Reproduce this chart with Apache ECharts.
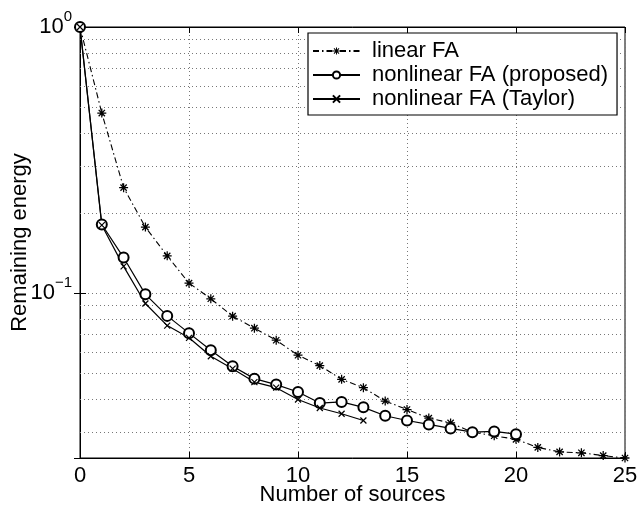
<!DOCTYPE html>
<html>
<head>
<meta charset="utf-8">
<script src="https://cdn.jsdelivr.net/npm/echarts@6/dist/echarts.min.js"></script>
<style>
html, body { margin: 0; padding: 0; background: #fff; }
#chart { width: 638px; height: 507px; }
</style>
</head>
<body>
<div id="chart"></div>
<script>
// Number of extracted sources (x) and the remaining energy for each method (log y)
const sources = [0, 1, 2, 3, 4, 5, 6, 7, 8, 9, 10, 11, 12, 13, 14, 15, 16, 17, 18, 19, 20, 21, 22, 23, 24, 25];
const linearFA = [1, 0.475, 0.249, 0.177, 0.138, 0.109, 0.0952, 0.0819, 0.0738, 0.0665, 0.0584, 0.0534, 0.0474,
  0.0441, 0.0393, 0.0365, 0.0339, 0.0325, 0.0300, 0.0291, 0.0282, 0.0263, 0.0253, 0.0251, 0.0245, 0.0240];
const proposedFA = [1, 0.181, 0.136, 0.0989, 0.0821, 0.0707, 0.0610, 0.0531, 0.0477, 0.0453, 0.0425, 0.0386,
  0.0390, 0.0372, 0.0346, 0.0332, 0.0321, 0.0310, 0.0300, 0.0302, 0.0295];
const taylorFA = [1, 0.180, 0.126, 0.0914, 0.0755, 0.0679, 0.0579, 0.0520, 0.0463, 0.0441, 0.0398, 0.0370,
  0.0352, 0.0332];

const seriesNames = ['linear FA', 'nonlinear FA (proposed)', 'nonlinear FA (Taylor)'];
const xRange = [0, 25];
const xStep = 5;
const yRange = [0.024, 1];
// dotted minor grid rows of the log axis
const minorGrid = [0.03, 0.04, 0.05, 0.06, 0.07, 0.08, 0.09, 0.2, 0.3, 0.4, 0.5, 0.6, 0.7, 0.8, 0.9];

const FONT = '"Liberation Sans", Arial, Helvetica, sans-serif';
const FS = 22;
// filled eight-armed asterisk and an open cross (stroked)
const ASTERISK = 'path://M0,4.3L10,4.3L10,5.7L0,5.7Z M4.3,0L5.7,0L5.7,10L4.3,10Z ' +
  'M1,2L2,1L9,8L8,9Z M8,1L9,2L2,9L1,8Z';
const CROSS = 'path://M0,0L10,10M10,0L0,10';

const pairs = arr => arr.map((v, i) => [sources[i], v]);
const dotted = { color: '#777', width: 1, type: [1, 3] };
const blackLine = { color: '#000', width: 1 };
const innerTick = { show: true, inside: true, length: 6, lineStyle: { color: '#000' } };

const chart = echarts.init(document.getElementById('chart'), null, { renderer: 'canvas' });

chart.setOption({
  animation: false,
  backgroundColor: '#fff',
  textStyle: { fontFamily: FONT, color: '#000' },
  grid: {
    left: 80, right: 13, top: 27, bottom: 49,
    outerBoundsMode: 'none',
    containLabel: false,
    show: true, borderColor: '#000', borderWidth: 1, backgroundColor: '#fff'
  },
  legend: {
    orient: 'vertical',
    left: 308, top: 33,
    padding: [7, 9, 5, 4],
    itemWidth: 47, itemHeight: 9, itemGap: 2,
    backgroundColor: '#fff',
    borderColor: '#000', borderWidth: 1.2,
    textStyle: { fontFamily: FONT, fontSize: FS, color: '#000', lineHeight: 22, padding: [0, 0, 0, 7] },
    data: seriesNames
  },
  xAxis: [{
    type: 'value', min: xRange[0], max: xRange[1], interval: xStep,
    name: 'Number of sources', nameLocation: 'middle', nameGap: 26,
    nameMoveOverlap: false,
    nameTextStyle: { fontFamily: FONT, fontSize: FS, color: '#000' },
    axisLine: { show: true, lineStyle: blackLine },
    axisTick: innerTick,
    axisLabel: { fontFamily: FONT, fontSize: FS, color: '#000', margin: 7 },
    splitLine: { show: true, lineStyle: dotted }
  }, {
    type: 'value', position: 'top', min: xRange[0], max: xRange[1], interval: xStep,
    axisLine: { show: true, lineStyle: blackLine },
    axisTick: innerTick,
    axisLabel: { show: false },
    splitLine: { show: false }
  }],
  yAxis: [{
    type: 'log', logBase: 10, min: yRange[0], max: yRange[1],
    name: 'Remaining energy', nameLocation: 'middle', nameGap: 49,
    nameMoveOverlap: false,
    nameTextStyle: { fontFamily: FONT, fontSize: FS, color: '#000' },
    axisLine: { show: true, lineStyle: blackLine },
    axisTick: innerTick,
    axisLabel: {
      showMinLabel: false,
      margin: 8,
      formatter: function (v) {
        const e = Math.log10(v);
        const r = Math.round(e);
        if (Math.abs(e - r) > 1e-6) return '';
        return '{b|10}{s|' + (r < 0 ? '\u2212' + (-r) : r) + '}';
      },
      rich: {
        b: { fontFamily: FONT, fontSize: FS, color: '#000' },
        s: { fontFamily: FONT, fontSize: 15, color: '#000', padding: [0, 0, 20, 0] }
      }
    },
    splitLine: { show: true, lineStyle: dotted }
  }, {
    type: 'log', logBase: 10, min: yRange[0], max: yRange[1], position: 'right',
    axisLine: { show: true, lineStyle: blackLine },
    axisTick: innerTick,
    axisLabel: { show: false },
    splitLine: { show: false }
  }],
  series: [{
    name: seriesNames[0],
    type: 'line',
    data: pairs(linearFA),
    clip: false,
    symbol: ASTERISK, symbolSize: 9,
    itemStyle: { color: '#000', borderWidth: 0 },
    lineStyle: { color: '#000', width: 1.1, type: [6, 3, 1.5, 3] },
    z: 3,
    markLine: {
      silent: true, symbol: 'none', animation: false,
      label: { show: false },
      lineStyle: dotted,
      z: 1,
      data: minorGrid.map(v => ({ yAxis: v }))
    }
  }, {
    name: seriesNames[1],
    type: 'line',
    data: pairs(proposedFA),
    clip: false,
    symbol: 'emptyCircle', symbolSize: 10,
    itemStyle: { color: '#000', borderColor: '#000', borderWidth: 1.2 },
    lineStyle: { color: '#000', width: 1.2, type: 'solid' },
    z: 4
  }, {
    name: seriesNames[2],
    type: 'line',
    data: pairs(taylorFA),
    clip: false,
    symbol: CROSS, symbolSize: 6,
    itemStyle: { color: '#000', borderColor: '#000', borderWidth: 1.2 },
    lineStyle: { color: '#000', width: 1.2, type: 'solid' },
    z: 4
  }]
});
</script>
</body>
</html>
